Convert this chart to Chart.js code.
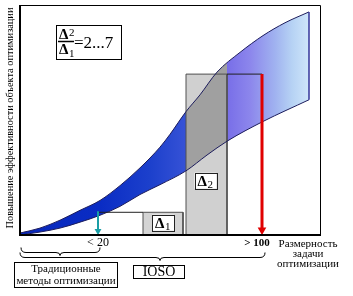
<!DOCTYPE html>
<html><head><meta charset="utf-8">
<script src="https://cdn.jsdelivr.net/npm/chart.js@4"></script>
<style>html,body{margin:0;padding:0;background:#fff}#wrap{width:353px;height:296px;position:relative}</style>
</head><body><div id="wrap"><canvas id="c"></canvas></div>
<script>
// Band of achievable efficiency (conceptual units: x = problem size axis, y = efficiency gain)
const upperX=[0,20,40,60,80,100,120,140,150,166,180,197,220,243,265,289];
const upperY=[2,7,15,25,35,50,68,89,102,125,142,165,185,202,215,226];
const lowerX=[0,20,40,60,80,100,120,140,166,187,207,243,289];
const lowerY=[0,3,7,13,20,29,41,51,65,81,95,115,137];
// Delta rectangles: [left, right, top]
const delta1=[123,163,23];
const delta2=[166,207,163];
// Dimension limits
const smallLimit=78;   // "< 20"
const largeLimit=242;  // "> 100"
const smallLabel='< 20', largeLabel='> 100';
const xTitle=['Размерность','задачи','оптимизации'];
const yTitle='Повышение эффективности объекта оптимизации';
const tradLabel=['Традиционные','методы оптимизации'];
const iosoLabel='IOSO';
const ratioLabel='=2...7';

const pts=(xs,ys)=>xs.map((x,i)=>({x,y:ys[i]}));
const bandEnd=upperX[upperX.length-1];

function bandFill(ctx){
  const ch=ctx.chart; if(!ch.chartArea) return 'rgba(0,0,0,0)';
  const xs=ch.scales.x;
  const x0=xs.getPixelForValue(0), x1=xs.getPixelForValue(bandEnd);
  const g=ch.ctx.createLinearGradient(x0,0,x1,0);
  const p=v=>Math.min(1,Math.max(0,(xs.getPixelForValue(v)-x0)/(x1-x0)));
  g.addColorStop(0,'#0828bc');
  g.addColorStop(p(80),'#0a2cc4');
  g.addColorStop(p(130),'#1c40cc');
  g.addColorStop(p(delta2[0])-0.0001,'#3652d6');
  g.addColorStop(p(delta2[0]),'#a0a0a0');
  g.addColorStop(p(delta2[1]),'#a0a0a0');
  g.addColorStop(p(delta2[1])+0.0001,'#786ee8');
  g.addColorStop(p(230),'#8c86ec');
  g.addColorStop(p(255),'#a0b2f0');
  g.addColorStop(p(272),'#b6d2f4');
  g.addColorStop(1,'#cfe6fa');
  return g;
}
const rect=r=>[{x:r[0],y:0},{x:r[0],y:r[2]},{x:r[1],y:r[2]},{x:r[1],y:0}];

const deco={
  id:'deco',
  afterDraw(ch){
    const c=ch.ctx, a=ch.chartArea, xs=ch.scales.x, ys=ch.scales.y;
    c.save();
    // frame
    c.strokeStyle='#000';
    c.lineWidth=1; c.beginPath(); c.moveTo(a.left,a.top+0.5); c.lineTo(a.right+0.5,a.top+0.5); c.lineTo(a.right+0.5,a.bottom); c.stroke();
    c.lineWidth=2; c.beginPath(); c.moveTo(a.left,a.top); c.lineTo(a.left,a.bottom); c.lineTo(a.right+1,a.bottom); c.stroke();
    c.fillStyle='#000';
    const serif='"Liberation Serif","Times New Roman",serif';
    // y title
    c.save(); c.translate(10,118); c.rotate(-Math.PI/2);
    c.font='11px '+serif; let w=c.measureText(yTitle).width; const fs=11*221/w;
    c.font=fs.toFixed(2)+'px '+serif; c.textAlign='center'; c.textBaseline='middle';
    c.fillText(yTitle,0,0); c.restore();
    // ratio box
    c.lineWidth=1; c.strokeStyle='#000'; c.strokeRect(56.5,25.5,65,34);
    c.textAlign='left'; c.textBaseline='alphabetic';
    c.font='bold 15px '+serif; c.fillText('Δ',59,39); c.fillText('Δ',59,54);
    c.font='11px '+serif; c.fillText('2',69,36); c.fillText('1',69,57);
    c.lineWidth=1.5; c.beginPath(); c.moveTo(58,41.5); c.lineTo(74,41.5); c.stroke();
    c.font='17px '+serif; c.fillText(ratioLabel,74,48);
    // delta label boxes
    function dbox(cx,cy,sub){
      c.fillStyle='#fff'; c.fillRect(cx-11,cy-8,22,16);
      c.strokeStyle='#222'; c.lineWidth=1; c.strokeRect(Math.round(cx-11)+0.5,Math.round(cy-8)+0.5,22,16);
      c.fillStyle='#000'; c.font='bold 15px '+serif; c.textAlign='left'; c.fillText('Δ',cx-8,cy+5);
      c.font='11px '+serif; c.fillText(sub,cx+2,cy+7);
    }
    dbox(xs.getPixelForValue((delta1[0]+delta1[1])/2),ys.getPixelForValue(delta1[2]/2)-1,'1');
    dbox(xs.getPixelForValue((delta2[0]+delta2[1])/2)-1,ys.getPixelForValue(55),'2');
    // axis labels
    c.fillStyle='#000'; c.textAlign='center'; c.textBaseline='middle';
    c.font='12px '+serif; c.fillText(smallLabel,xs.getPixelForValue(smallLimit),243);
    c.font='bold 11px '+serif; c.fillText(largeLabel,xs.getPixelForValue(largeLimit)-5,243);
    c.font='11px '+serif;
    xTitle.forEach((t,i)=>c.fillText(t,308,244+i*10));
    // braces
    function brace(x1,x2,xt,y0){
      c.beginPath(); c.moveTo(x1,y0-5);
      c.quadraticCurveTo(x1,y0,x1+5,y0);
      c.lineTo(xt-4,y0); c.quadraticCurveTo(xt,y0,xt,y0+3);
      c.quadraticCurveTo(xt,y0,xt+4,y0);
      c.lineTo(x2-5,y0); c.quadraticCurveTo(x2,y0,x2,y0-5); c.stroke();
    }
    c.strokeStyle='#000'; c.lineWidth=1;
    brace(a.left+1,xs.getPixelForValue(smallLimit)+2,60,252.5);
    brace(a.left+0,xs.getPixelForValue(largeLimit)+3,160,257.5);
    // boxes
    c.strokeRect(14.5,262.5,103,25);
    c.font='11px '+serif;
    c.fillText(tradLabel[0],66,269); c.fillText(tradLabel[1],66,281);
    c.strokeRect(133.5,265.5,51,13);
    c.font='14px '+serif; c.fillText(iosoLabel,159,272.5);
    c.restore();
  }
};

new Chart(document.getElementById('c'),{
  type:'line',
  data:{datasets:[
    {data:pts(upperX,upperY),fill:'+1',backgroundColor:bandFill,borderColor:'#1c1c5c',borderWidth:1,pointRadius:0,cubicInterpolationMode:'monotone',order:5},
    {data:pts(lowerX,lowerY),fill:false,borderColor:'#1c1c5c',borderWidth:1,pointRadius:0,cubicInterpolationMode:'monotone',order:5},
    {data:[{x:bandEnd,y:lowerY[lowerY.length-1]},{x:bandEnd,y:upperY[upperY.length-1]}],fill:false,borderColor:'#34349a',borderWidth:1.5,pointRadius:0,order:4},
    {data:rect(delta2),fill:'origin',backgroundColor:'#d0d0d0',borderColor:'#505050',borderWidth:1,pointRadius:0,tension:0,order:10},
    {data:rect(delta1),fill:'origin',backgroundColor:'#d4d4d4',borderColor:'#505050',borderWidth:1,pointRadius:0,tension:0,order:10},
    {data:[{x:delta2[1],y:delta2[2]},{x:largeLimit,y:delta2[2]}],fill:false,borderColor:'#202020',borderWidth:1,pointRadius:0,order:3},
    {data:[{x:smallLimit,y:delta1[2]},{x:delta1[0],y:delta1[2]}],fill:false,borderColor:'#202020',borderWidth:1,pointRadius:0,order:3},
    {data:[{x:largeLimit,y:delta2[2]},{x:largeLimit,y:5}],fill:false,borderColor:'#e00000',borderWidth:3,pointRadius:[0,5],pointStyle:'triangle',rotation:180,pointBackgroundColor:'#e00000',pointBorderWidth:0,order:1},
    {data:[{x:smallLimit,y:delta1[2]+1},{x:smallLimit,y:4}],fill:false,borderColor:'#1a9ea6',borderWidth:2,pointRadius:[0,4],pointStyle:'triangle',rotation:180,pointBackgroundColor:'#1a9ea6',pointBorderWidth:0,order:1}
  ]},
  options:{
    responsive:true,maintainAspectRatio:false,animation:false,
    layout:{padding:{left:20,top:2,right:33,bottom:61}},
    plugins:{legend:{display:false},tooltip:{enabled:false},filler:{drawTime:'beforeDatasetsDraw'}},
    scales:{
      x:{type:'linear',min:0,max:300,display:false},
      y:{type:'linear',min:0,max:233,display:false}
    }
  },
  plugins:[deco]
});
</script></body></html>
